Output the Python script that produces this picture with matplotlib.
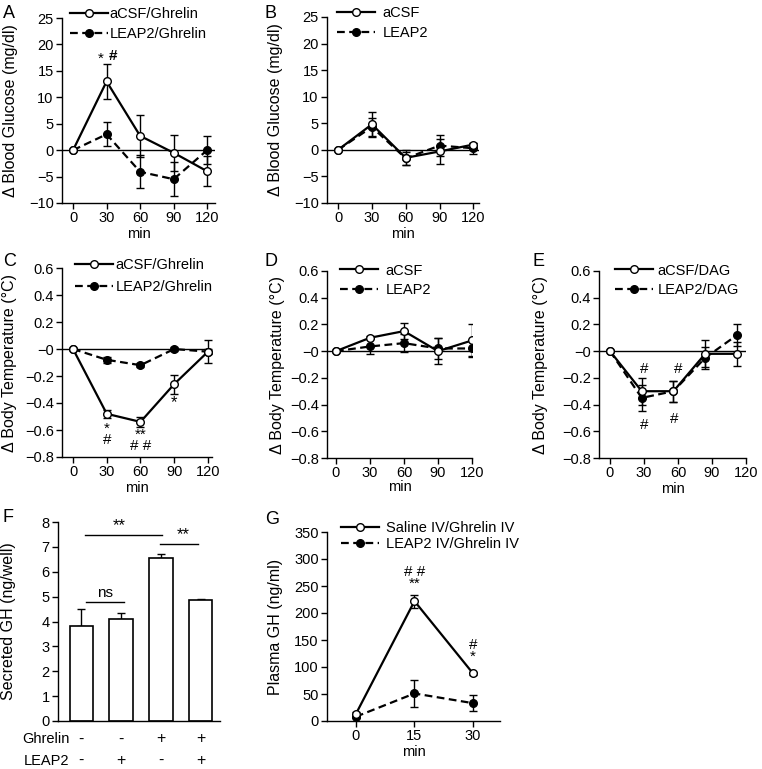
import matplotlib
matplotlib.use("Agg")
import matplotlib.pyplot as plt
import matplotlib.transforms as mtransforms
from matplotlib.ticker import FuncFormatter
import numpy as np

plt.rcParams['font.family'] = ['Liberation Sans', 'DejaVu Sans']
plt.rcParams['axes.linewidth'] = 1.0

# ---------------- data ----------------
t_min = [0, 30, 60, 90, 120]
t_E = [0, 28, 56, 84, 112]
t_G = [0, 15, 30]

A_acsf = [0, 13.0, 2.7, -0.5, -4.0]
A_acsf_err = [0, 3.3, 4.0, 3.4, 2.8]
A_leap = [0, 3.0, -4.1, -5.5, 0.0]
A_leap_err = [0, 2.3, 3.1, 3.2, 2.7]

B_acsf = [0, 4.8, -1.5, -0.3, 1.0]
B_acsf_err = [0, 2.3, 1.4, 2.3, 0.3]
B_leap = [0, 4.3, -1.6, 0.8, 0.3]
B_leap_err = [0, 1.7, 1.2, 2.0, 1.0]

C_acsf = [0, -0.48, -0.54, -0.26, -0.02]
C_acsf_err = [0, 0.03, 0.04, 0.07, 0.085]
C_leap = [0, -0.08, -0.12, 0.0, -0.02]
C_leap_err = [0, 0.02, 0.015, 0.015, 0.02]

D_acsf = [0, 0.10, 0.15, 0.0, 0.08]
D_acsf_err = [0, 0.01, 0.06, 0.10, 0.12]
D_leap = [0, 0.035, 0.06, 0.02, 0.02]
D_leap_err = [0, 0.06, 0.07, 0.08, 0.065]

E_acsf = [0, -0.30, -0.30, -0.02, -0.02]
E_acsf_err = [0, 0.10, 0.08, 0.10, 0.09]
E_leap = [0, -0.35, -0.30, -0.05, 0.12]
E_leap_err = [0, 0.10, 0.08, 0.08, 0.08]

F_means = [3.8, 4.1, 6.55, 4.87]
F_err = [0.7, 0.23, 0.15, 0.03]
F_ghrelin = ['-', '-', '+', '+']
F_leap2 = ['-', '+', '-', '+']

G_saline = [13, 222, 88]
G_saline_err = [3, 12, 3]
G_leap = [8, 51, 33]
G_leap_err = [2, 25, 15]

# ---------------- layout helpers ----------------
W, H = 762, 769
fig = plt.figure(figsize=(W / 100, H / 100), dpi=100)

FS = 10.5
YFS = 11.5
SFS = 12  # asterisk size


def add_ax(l, t, r, b):
    return fig.add_axes([l / W, 1 - b / H, (r - l) / W, (b - t) / H])


def fmt_num(v, pos):
    s = '%g' % round(v, 6)
    return s.replace('-', '\u2212')


def style(ax, ylab, lab_px, l, r):
    ax.spines['top'].set_visible(False)
    ax.spines['right'].set_visible(False)
    ax.tick_params(direction='out', length=4, width=1, labelsize=FS, pad=2)
    ax.yaxis.set_major_formatter(FuncFormatter(fmt_num))
    ax.set_ylabel(ylab, fontsize=YFS)
    ax.yaxis.set_label_coords((lab_px - l) / (r - l), 0.5)


def plot_pair(ax, x, y1, e1, y2, e2, labels, leg_x, leg_y, spacing=0.35, tpad=0.5):
    ax.axhline(0, color='black', lw=1.0, zorder=1)
    ax.errorbar(x, y2, yerr=e2, fmt='none', ecolor='black', elinewidth=1, capsize=3, capthick=1, zorder=2)
    ax.errorbar(x, y1, yerr=e1, fmt='none', ecolor='black', elinewidth=1, capsize=3, capthick=1, zorder=2)
    l2, = ax.plot(x, y2, ls=(0, (3.5, 2)), color='black', lw=1.6, marker='o', ms=5.5,
                  mfc='black', mec='black', zorder=3, label=labels[1])
    l1, = ax.plot(x, y1, ls='-', color='black', lw=1.6, marker='o', ms=5.5,
                  mfc='white', mec='black', mew=1, zorder=4, label=labels[0])
    ax.legend(handles=[l1, l2], loc='upper left', bbox_to_anchor=(leg_x, leg_y),
              frameon=False, fontsize=FS, handlelength=2.6, handletextpad=tpad,
              borderpad=0, borderaxespad=0, labelspacing=spacing)


def stacked(ax, x, y, s):
    # two significance marks stacked in one text
    ax.text(x, y, s, ha='center', va='center', multialignment='center',
            fontsize=11, linespacing=0.75)


# ---------------- Panel A ----------------
l, t, r, b = 62, 18, 215, 203
axA = add_ax(l, t, r, b)
plot_pair(axA, t_min, A_acsf, A_acsf_err, A_leap, A_leap_err,
          ['aCSF/Ghrelin', 'LEAP2/Ghrelin'], 0.05, 1.06, 0.42, 0.15)
axA.set_ylim(-10, 25)
axA.set_yticks(np.arange(-10, 26, 5))
axA.set_xlim(-9.9, 127)
axA.set_xticks(t_min)
axA.set_xlabel('min', fontsize=FS, labelpad=1)
style(axA, '\u0394 Blood Glucose (mg/dl)', 18, l, r)
axA.text(25, 17.2, '*', ha='center', va='center', fontsize=SFS - 1)
axA.text(36, 17.8, '#', ha='center', va='center', fontsize=11, fontweight='bold')

# ---------------- Panel B ----------------
l, t, r, b = 327, 17, 479, 203
axB = add_ax(l, t, r, b)
plot_pair(axB, t_min, B_acsf, B_acsf_err, B_leap, B_leap_err,
          ['aCSF', 'LEAP2'], 0.065, 1.06, 0.4, 0.55)
axB.set_ylim(-10, 25)
axB.set_yticks(np.arange(-10, 26, 5))
axB.set_xlim(-9.8, 125)
axB.set_xticks(t_min)
axB.set_xlabel('min', fontsize=FS, labelpad=1)
style(axB, '\u0394 Blood Glucose (mg/dl)', 283, l, r)

# ---------------- Panel C ----------------
l, t, r, b = 62, 268, 212, 457
axC = add_ax(l, t, r, b)
plot_pair(axC, t_min, C_acsf, C_acsf_err, C_leap, C_leap_err,
          ['aCSF/Ghrelin', 'LEAP2/Ghrelin'], 0.085, 1.055, 0.6, 0.2)
axC.set_ylim(-0.8, 0.6)
axC.set_yticks(np.arange(-0.8, 0.61, 0.2))
axC.set_xlim(-9.8, 123.6)
axC.set_xticks(t_min)
axC.set_xlabel('min', fontsize=FS, labelpad=1)
style(axC, '\u0394 Body Temperature (\u00b0C)', 17, l, r)
stacked(axC, 30, -0.63, '*\n#')
stacked(axC, 60, -0.68, '**\n# #')
axC.text(90, -0.40, '*', ha='center', va='center', fontsize=SFS)

# ---------------- Panel D ----------------
l, t, r, b = 327, 271, 472, 458
axD = add_ax(l, t, r, b)
plot_pair(axD, t_min, D_acsf, D_acsf_err, D_leap, D_leap_err,
          ['aCSF', 'LEAP2'], 0.09, 1.04, 0.4, 0.5)
axD.set_ylim(-0.8, 0.6)
axD.set_yticks(np.arange(-0.8, 0.61, 0.2))
axD.set_xlim(-7.9, 120)
axD.set_xticks(t_min)
axD.set_xlabel('min', fontsize=FS, labelpad=0)
style(axD, '\u0394 Body Temperature (\u00b0C)', 285, l, r)

# ---------------- Panel E ----------------
l, t, r, b = 599, 271, 746, 458
axE = add_ax(l, t, r, b)
plot_pair(axE, t_E, E_acsf, E_acsf_err, E_leap, E_leap_err,
          ['aCSF/DAG', 'LEAP2/DAG'], 0.11, 1.04, 0.4, 0.3)
axE.set_ylim(-0.8, 0.6)
axE.set_yticks(np.arange(-0.8, 0.61, 0.2))
axE.set_xlim(-9.7, 120)
axE.set_xticks(t_min)
axE.set_xlabel('min', fontsize=FS, labelpad=1)
style(axE, '\u0394 Body Temperature (\u00b0C)', 548, l, r)
axE.text(30, -0.13, '#', ha='center', va='center', fontsize=11)
axE.text(60, -0.13, '#', ha='center', va='center', fontsize=11)
axE.text(30, -0.55, '#', ha='center', va='center', fontsize=11)
axE.text(57, -0.51, '#', ha='center', va='center', fontsize=11)

# ---------------- Panel F ----------------
l, t, r, b = 58, 522, 220, 721
axF = add_ax(l, t, r, b)
xF = np.arange(len(F_means))
axF.bar(xF, F_means, width=0.6, color='white', edgecolor='black', linewidth=1.2, zorder=2)
axF.errorbar(xF, F_means, yerr=[np.zeros(len(F_err)), F_err], fmt='none', ecolor='black',
             elinewidth=1, capsize=3, capthick=1, zorder=1)
axF.set_ylim(0, 8)
axF.set_yticks(np.arange(0, 9, 1))
axF.set_xlim(-0.59, 3.49)
axF.set_xticks([])
style(axF, 'Secreted GH (ng/well)', 16, l, r)
axF.plot([0.1, 2.03], [7.48, 7.48], color='black', lw=1)
axF.text(0.95, 7.55, '**', ha='center', va='bottom', fontsize=SFS)
axF.plot([1.98, 2.93], [7.12, 7.12], color='black', lw=1)
axF.text(2.56, 7.19, '**', ha='center', va='bottom', fontsize=SFS)
axF.plot([0.11, 1.07], [4.8, 4.8], color='black', lw=1)
axF.text(0.6, 5.15, 'ns', ha='center', va='center', fontsize=FS + 0.5)
trF = mtransforms.blended_transform_factory(axF.transData, axF.transAxes)
axF.text(-0.3, -0.09, 'Ghrelin', transform=trF, ha='right', va='center', fontsize=FS)
axF.text(-0.3, -0.2, 'LEAP2', transform=trF, ha='right', va='center', fontsize=FS)
for i in range(len(F_means)):
    axF.text(xF[i], -0.09, F_ghrelin[i], transform=trF, ha='center', va='center', fontsize=FS + 1)
    axF.text(xF[i], -0.2, F_leap2[i], transform=trF, ha='center', va='center', fontsize=FS + 1)

# ---------------- Panel G ----------------
l, t, r, b = 327, 532, 500, 721
axG = add_ax(l, t, r, b)
axG.errorbar(t_G, G_leap, yerr=G_leap_err, fmt='none', ecolor='black', elinewidth=1,
             capsize=3, capthick=1, zorder=2)
axG.errorbar(t_G, G_saline, yerr=G_saline_err, fmt='none', ecolor='black', elinewidth=1,
             capsize=3, capthick=1, zorder=2)
g2, = axG.plot(t_G, G_leap, ls=(0, (3.5, 2)), color='black', lw=1.6, marker='o', ms=5.5,
               mfc='black', mec='black', zorder=3, label='LEAP2 IV/Ghrelin IV')
g1, = axG.plot(t_G, G_saline, ls='-', color='black', lw=1.6, marker='o', ms=5.5,
               mfc='white', mec='black', zorder=4, label='Saline IV/Ghrelin IV')
axG.legend(handles=[g1, g2], loc='upper left', bbox_to_anchor=(0.08, 1.06), frameon=False,
           fontsize=FS, handlelength=2.6, handletextpad=0.5, borderpad=0, borderaxespad=0,
           labelspacing=0.18)
axG.set_ylim(0, 350)
axG.set_yticks(np.arange(0, 351, 50))
axG.set_xlim(-7.4, 36.9)
axG.set_xticks(t_G)
axG.set_xlabel('min', fontsize=FS, labelpad=1)
style(axG, 'Plasma GH (ng/ml)', 283, l, r)
stacked(axG, 15, 265, '# #\n**')
stacked(axG, 30, 130, '#\n*')

# ---------------- panel letters ----------------
for letter, px, py in [('A', 3, 14), ('B', 265, 14), ('C', 3, 262), ('D', 265, 262),
                       ('E', 532, 262), ('F', 3, 517), ('G', 265, 520)]:
    fig.text(px / W, 1 - py / H, letter, fontsize=13, ha='left', va='center')

fig.savefig('out.png', dpi=100)
